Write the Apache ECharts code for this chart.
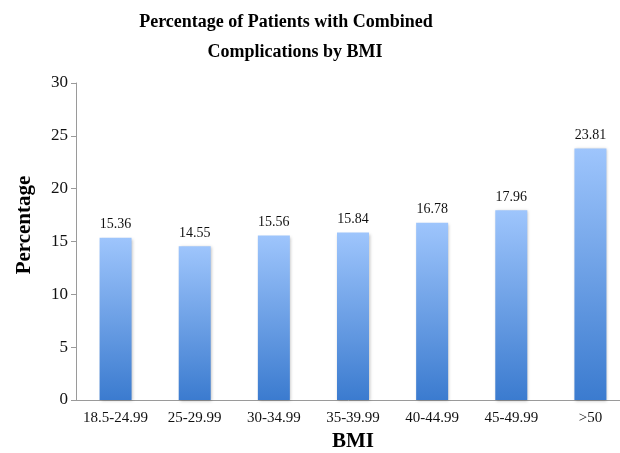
<!DOCTYPE html>
<html>
<head>
<meta charset="utf-8">
<script src="https://cdn.jsdelivr.net/npm/echarts@6/dist/echarts.min.js"></script>
<style>
  html, body { margin: 0; padding: 0; background: #fff; }
  #chart { width: 620px; height: 453px; }
</style>
</head>
<body>
<div id="chart"></div>
<script>
  // BMI groups and percentage values
  const categories = ['18.5-24.99', '25-29.99', '30-34.99', '35-39.99', '40-44.99', '45-49.99', '>50'];
  const percentages = [15.36, 14.55, 15.56, 15.84, 16.78, 17.96, 23.81];
  const yTicks = { min: 0, max: 30, interval: 5 };

  const serif = '"Liberation Serif", "DejaVu Serif", serif';
  const chart = echarts.init(document.getElementById('chart'));

  chart.setOption({
    animation: false,
    title: [
      {
        text: 'Percentage of Patients with Combined',
        left: 281, top: 8, textAlign: 'center',
        textStyle: { fontFamily: serif, fontSize: 18, fontWeight: 'bold', color: '#000' }
      },
      {
        text: 'Complications by BMI',
        left: 290, top: 38, textAlign: 'center',
        textStyle: { fontFamily: serif, fontSize: 18, fontWeight: 'bold', color: '#000' }
      }
    ],
    // y axis title sits a little above the plot middle, so place it by hand
    graphic: [{
      type: 'text',
      x: 25, y: 225,
      rotation: Math.PI / 2,
      style: {
        text: 'Percentage',
        font: 'bold 21px ' + serif,
        fill: '#000',
        align: 'center',
        verticalAlign: 'middle'
      }
    }],
    grid: { left: 76, top: 83, width: 554, bottom: 53, outerBoundsMode: 'none' },
    xAxis: {
      type: 'category',
      data: categories,
      name: 'BMI',
      nameLocation: 'middle',
      nameGap: 30,
      nameTextStyle: { fontFamily: serif, fontSize: 21, fontWeight: 'bold', color: '#000' },
      axisLine: { lineStyle: { color: '#9a9a9a' } },
      axisTick: { length: 5, lineStyle: { color: '#9a9a9a' } },
      axisLabel: { interval: 0, fontFamily: serif, fontSize: 15, color: '#111', margin: 11 }
    },
    yAxis: {
      type: 'value',
      min: yTicks.min, max: yTicks.max, interval: yTicks.interval,
      axisLine: { show: true, lineStyle: { color: '#9a9a9a' } },
      axisTick: { show: true, length: 5, lineStyle: { color: '#9a9a9a' } },
      splitLine: { show: false },
      axisLabel: { fontFamily: serif, fontSize: 17, color: '#111', margin: 8 }
    },
    series: [{
      type: 'bar',
      data: percentages,
      barWidth: 32,
      itemStyle: {
        color: new echarts.graphic.LinearGradient(0, 0, 0, 1, [
          { offset: 0, color: '#9ec5fc' },
          { offset: 1, color: '#3b7bcf' }
        ]),
        shadowColor: 'rgba(0,0,0,0.25)',
        shadowBlur: 3,
        shadowOffsetX: 1,
        shadowOffsetY: 1
      },
      label: {
        show: true,
        position: 'top',
        distance: 6,
        fontFamily: serif,
        fontSize: 14,
        color: '#111',
        formatter: p => p.value.toFixed(2)
      }
    }]
  });
</script>
</body>
</html>
